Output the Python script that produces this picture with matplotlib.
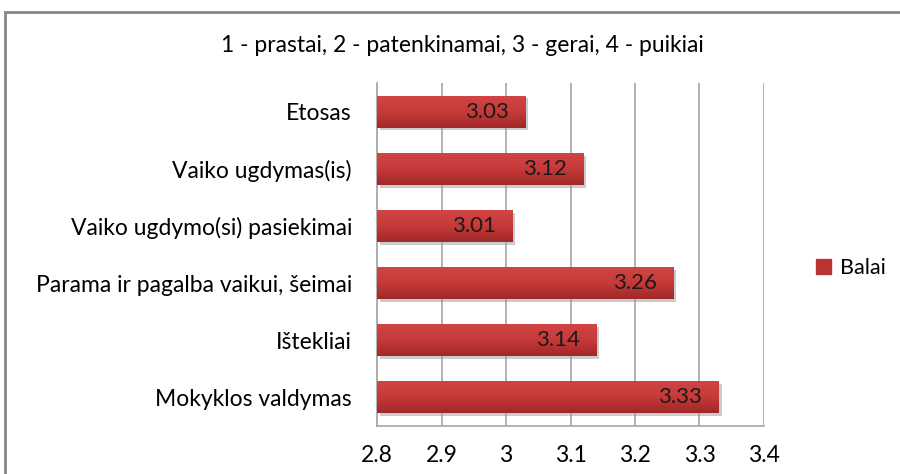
import matplotlib.pyplot as plt
import matplotlib.patheffects as pe
from matplotlib.patches import Rectangle
from matplotlib.colors import LinearSegmentedColormap
import numpy as np

# %%
# data
categories = ['Etosas', 'Vaiko ugdymas(is)', 'Vaiko ugdymo(si) pasiekimai',
              'Parama ir pagalba vaikui, šeimai', 'Ištekliai', 'Mokyklos valdymas']
balai = [3.03, 3.12, 3.01, 3.26, 3.14, 3.33]
xticks = [2.8, 2.9, 3.0, 3.1, 3.2, 3.3, 3.4]
xticklabels = ['2.8', '2.9', '3', '3.1', '3.2', '3.3', '3.4']
title = '1 - prastai, 2 - patenkinamai, 3 - gerai, 4 - puikiai'

plt.rcParams['font.family'] = ['Lato', 'DejaVu Sans']

# %%
fig = plt.figure(figsize=(9, 4.74), dpi=100)
ax = fig.add_axes([377/900, 1 - 426/474, (764 - 377)/900, (426 - 83)/474])

y = np.arange(len(categories))[::-1]
bars = ax.barh(y, [v - 2.8 for v in balai], left=2.8, height=0.56,
               color='#c0393b', zorder=2,
               path_effects=[pe.SimplePatchShadow(offset=(2, -2), shadow_rgbFace='#999999', alpha=0.5),
                             pe.Normal()])

# gradient fill on each bar
grad = LinearSegmentedColormap.from_list('redgrad', ['#a02828', '#c73a3a', '#d24545'])
g = np.linspace(0, 1, 64).reshape(-1, 1)
for b in bars:
    x0, y0, w, h = b.get_x(), b.get_y(), b.get_width(), b.get_height()
    im = ax.imshow(g, cmap=grad, extent=(x0, x0 + w, y0, y0 + h),
                   origin='lower', aspect='auto', zorder=3)
    im.set_clip_path(b)

for b, v in zip(bars, balai):
    ax.text(b.get_x() + b.get_width() - 0.026, b.get_y() + b.get_height() / 2,
            f'{v:.2f}', ha='right', va='center', fontsize=16,
            color='#1a1a1a', zorder=4)

ax.set_xlim(2.8, 3.4)
ax.set_ylim(-0.5, len(categories) - 0.5)
ax.set_xticks(xticks)
ax.set_xticklabels(xticklabels, fontsize=16.5)
ax.set_yticks(y)
ax.set_yticklabels(categories, fontsize=16.5)
ax.tick_params(axis='x', length=0, pad=14)
ax.tick_params(axis='y', length=0, pad=18)
ax.xaxis.grid(True, color='#a6a6a6', lw=1.2, zorder=0)
ax.set_axisbelow(True)
for s in ['top', 'right']:
    ax.spines[s].set_visible(False)
for s in ['left', 'bottom']:
    ax.spines[s].set_color('#a6a6a6')
    ax.spines[s].set_linewidth(1.2)

# legend
ax.legend([Rectangle((0, 0), 1, 1, color='#b83434')], ['Balai'],
          loc='center left', bbox_to_anchor=(797/900, 1 - 268/474),
          bbox_transform=fig.transFigure, frameon=False, fontsize=15.5,
          handlelength=0.7, handleheight=0.7, handletextpad=0.4)

fig.text(462/900, 1 - 45/474, title, ha='center', va='center', fontsize=16.5)

# chart frame (cut off at right and bottom)
fig.patches.append(Rectangle((5/900, -0.1), 1.2, 1.1 - 12.5/474,
                             transform=fig.transFigure, fill=False,
                             edgecolor='#868686', lw=2))

fig.savefig('out.png', dpi=100)
